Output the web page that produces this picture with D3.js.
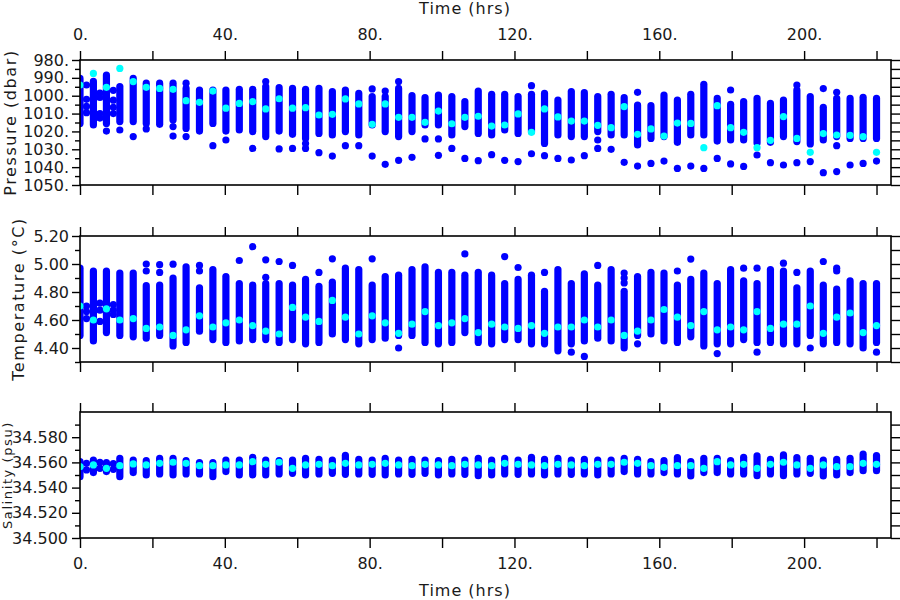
<!DOCTYPE html>
<html><head><meta charset="utf-8">
<script src="https://cdn.jsdelivr.net/npm/d3@7/dist/d3.min.js"></script>
<style>body{margin:0;background:#fff}svg{display:block}text{font-family:"DejaVu Sans",sans-serif}</style>
</head><body><svg id="c" width="900" height="600"></svg>
<script>
// ---------- data ----------
const times = [0,3.7,7.3,11,14.7,18.3,22,25.7,29.3,33,36.7,40.3,44,47.7,51.3,55,58.7,62.3,66,69.7,73.3,77,80.7,84.3,88,91.7,95.3,99,102.7,106.3,110,113.7,117.3,121,124.7,128.3,132,135.7,139.3,143,146.7,150.3,154,157.7,161.3,165,168.7,172.3,176,179.7,183.3,187,190.7,194.3,198,201.7,205.3,209,212.7,216.3,220];

const presTop = [990.3,992,988.4,994.9,990.3,993,993,993,995.9,996.8,996.8,996.8,996.4,996.4,994.9,995.5,995.9,996.4,995.9,997.7,996.8,998.7,1000.5,1000.5,995.9,1000,1001.1,999.6,1000.5,1003.3,997.4,999.2,999.2,1000.5,999.2,998.7,1002.4,997.7,998.3,1000.5,999.2,1001.1,1005.2,1005.6,999.6,1002.4,999.2,993.6,1001.5,1004.8,1003.3,1001.5,1004.3,1002.4,996.8,1000.5,1006.5,1001.5,1001.5,1000.9,1001.5];
const presBottom = [1015.5,1016.4,1015.5,1014.5,1014.5,1015.5,1016,1013.6,1018.3,1019.8,1015.5,1019.8,1019.2,1020.1,1022.9,1019.8,1021.6,1024,1021.1,1022,1020.1,1022,1016.4,1020.1,1022.9,1020.1,1016.4,1016.4,1022,1017.3,1021.1,1022,1019.2,1021.1,1020.1,1026.7,1022,1022.9,1022.9,1020.1,1022,1022,1027.6,1023.9,1022.9,1026.1,1022,1022,1025.4,1024.8,1024.8,1026.5,1026.1,1022.9,1025.7,1027,1024.8,1022.9,1023.9,1023.9,1023.9];
const presCyan = [994,987.5,995.3,984.7,992.1,995.3,995.9,996.4,1002.8,1003.7,997.4,1007,1004.3,1003.3,1007.4,1001.7,1007,1006.7,1010.8,1010.4,1001.8,1004.6,1016,1004.6,1012.1,1012.1,1014.9,1008.6,1015.7,1012.1,1011.5,1017,1016.4,1010.2,1020.5,1007.4,1011.9,1014.2,1014.2,1016.6,1017.9,1006.1,1021.6,1018.6,1022.6,1015.3,1015.5,1029.1,1005.6,1017.9,1020.5,1029.1,1025,1011.7,1023.9,1031.7,1021.2,1022,1022.2,1022.9,1031.7];
const presExtra = [[1.8,994],[1.8,1002],[1.8,1006],[1.8,1009.5],[5.5,998.5],[5.5,1001],[5.5,1010],[5.5,1012.5],[9.2,997],[9.2,1002.5],[9.2,1006.5],[9.2,1010],
[7.3,1019.8],[11,1019.2],[14.7,1022.9],[18.3,1018.6],[25.7,1017.3],[25.7,1022.6],[29.3,993],[29.3,1022.9],[36.7,1028],[40.3,1024.8],[47.7,1029.5],[51.3,992.1],[55,1029.8],[58.7,1029.5],[62.3,1026.8],[62.3,1029.5],[66,1031.9],[69.7,1033.8],[73.3,1028],[77,1028],[80.7,996.2],[80.7,1033.8],[84.3,997.4],[84.3,1038.4],[88,992.1],[88,1036.2],[91.7,1034.5],[95.3,1024.2],[99,1024.2],[99,1033.4],[102.7,1029.5],[106.3,1035.1],[110,1036.4],[113.7,1033],[117.3,1036.2],[121,1036.9],[124.7,994.4],[124.7,1032.5],[128.3,1033.6],[132,1035.1],[135.7,1036],[139.3,1033.6],[143,1024.8],[143,1029.5],[146.7,1030],[150.3,1037.3],[154,998.1],[154,1039.4],[157.7,1037.9],[161.3,1036.6],[165,1040.7],[168.7,1039.4],[172.3,1040.7],[176,1035.1],[179.7,996.8],[179.7,1038.2],[183.3,1039.6],[187,1033.2],[190.7,1037.5],[194.3,1038.8],[198,994],[198,1037.5],[201.7,1036.9],[205.3,996],[205.3,1043.1],[209,998.1],[209,1028],[209,1042.5],[212.7,1038.8],[216.3,1037.9],[220,1036.6]];

const tempTop = [4.97,4.95,4.95,4.935,4.935,4.845,4.85,4.9,4.98,4.83,4.96,4.91,4.86,4.85,4.86,4.86,4.85,4.89,4.84,4.87,4.97,4.96,4.85,4.91,4.92,4.96,4.98,4.94,4.94,4.92,4.94,4.92,4.86,4.89,4.92,4.805,4.96,4.86,4.93,4.85,4.96,4.805,4.91,4.94,4.935,4.85,4.89,4.935,4.86,4.96,4.88,4.86,4.96,4.95,4.83,4.95,4.85,4.82,4.88,4.86,4.86];
const tempBottom = [4.49,4.45,4.51,4.49,4.48,4.47,4.49,4.415,4.44,4.52,4.46,4.44,4.45,4.46,4.46,4.44,4.46,4.43,4.44,4.5,4.46,4.43,4.46,4.47,4.49,4.49,4.44,4.43,4.44,4.51,4.44,4.43,4.46,4.46,4.43,4.43,4.38,4.43,4.45,4.47,4.45,4.4,4.49,4.5,4.45,4.44,4.48,4.415,4.43,4.43,4.46,4.44,4.44,4.43,4.43,4.49,4.43,4.44,4.43,4.4,4.44];
const tempCyan = [4.7,4.6,4.68,4.6,4.61,4.54,4.55,4.49,4.53,4.63,4.55,4.58,4.6,4.56,4.52,4.5,4.69,4.62,4.59,4.74,4.62,4.5,4.63,4.58,4.505,4.57,4.66,4.56,4.58,4.61,4.51,4.57,4.55,4.54,4.56,4.505,4.55,4.55,4.6,4.55,4.6,4.49,4.52,4.6,4.675,4.62,4.56,4.66,4.53,4.55,4.53,4.66,4.54,4.57,4.57,4.7,4.505,4.62,4.65,4.51,4.56];
const tempExtra = [[1.8,4.7],[1.8,4.66],[1.8,4.61],[5.5,4.72],[5.5,4.67],[5.5,4.59],[9.2,4.71],[9.2,4.67],[9.2,4.64],
[18.3,5.0],[18.3,4.95],[22,4.995],[22,4.94],[25.7,4.999],[33,4.99],[33,4.95],[44,5.025],[47.7,5.124],[51.3,5.03],[51.3,4.905],[55,5.018],[58.7,4.99],[66,4.94],[69.7,5.037],[80.7,5.037],[88,4.4],[106.3,5.072],[117.3,5.053],[121,4.975],[128.3,4.94],[135.7,4.37],[139.3,4.34],[143,4.99],[150.3,4.935],[150.3,4.9],[150.3,4.865],[154,4.43],[165,4.95],[168.7,5.035],[176,4.36],[183.3,4.97],[187,4.97],[187,4.37],[194.3,5.006],[198,4.94],[201.7,4.4],[205.3,5.018],[209,4.97],[209,4.95],[220,4.37]];

const salTop = [34.5606,34.5619,34.5598,34.5633,34.5619,34.5614,34.5633,34.5633,34.5614,34.5598,34.5598,34.5619,34.5619,34.5641,34.5619,34.5614,34.5619,34.5633,34.5625,34.5619,34.5655,34.5625,34.5619,34.5633,34.5619,34.5625,34.5619,34.5614,34.5625,34.5619,34.5633,34.5619,34.5633,34.5619,34.564,34.5625,34.5633,34.5619,34.5625,34.5619,34.5619,34.5633,34.5625,34.5606,34.5614,34.5638,34.5606,34.5633,34.5633,34.5614,34.5641,34.5651,34.5625,34.5659,34.5638,34.5633,34.5619,34.5625,34.5633,34.5665,34.5654];
const salBottom = [34.5487,34.5519,34.5527,34.5487,34.5519,34.55,34.5508,34.55,34.5508,34.5508,34.5487,34.5527,34.55,34.55,34.55,34.5508,34.5513,34.55,34.5508,34.5513,34.5505,34.5508,34.5505,34.55,34.5508,34.5505,34.5513,34.55,34.5508,34.5505,34.5495,34.55,34.5508,34.5505,34.5508,34.55,34.5508,34.5505,34.5508,34.55,34.5508,34.5527,34.5508,34.5508,34.5519,34.5508,34.5492,34.5519,34.5519,34.5508,34.5508,34.5495,34.5508,34.5495,34.5508,34.5513,34.5492,34.55,34.5519,34.5534,34.5534];
const salCyan = [34.5566,34.558,34.5553,34.5574,34.5588,34.558,34.5593,34.5601,34.5593,34.5574,34.5574,34.558,34.558,34.5606,34.5585,34.5601,34.5553,34.558,34.5585,34.5574,34.5593,34.558,34.5585,34.5593,34.558,34.5574,34.5585,34.558,34.5574,34.5585,34.558,34.5574,34.5593,34.5585,34.558,34.5574,34.5585,34.558,34.5574,34.5585,34.5585,34.5601,34.5593,34.5574,34.5561,34.5574,34.5574,34.5553,34.5606,34.558,34.5585,34.5553,34.5585,34.5601,34.558,34.5553,34.558,34.5566,34.5566,34.5593,34.5585];
const salExtra = [[1.8,34.5593],[1.8,34.554],[5.5,34.56],[5.5,34.5553],[9.2,34.559],[9.2,34.5545]];

const xTickValues = [0,20,40,60,80,100,120,140,160,180,200,220];
const xLabelValues = [0,40,80,120,160,200];
const presTicks = [980,990,1000,1010,1020,1030,1040,1050];
const presMinor = [985,995,1005,1015,1025,1035,1045];
const tempTicks = [4.4,4.6,4.8,5.0,5.2];
const tempMinor = [4.3,4.5,4.7,4.9,5.1];
const salTicks = [34.50,34.52,34.54,34.56,34.58];
const salMinor = [34.51,34.53,34.55,34.57,34.59];
const xTitle = "Time (hrs)";

// ---------- drawing ----------
const svg = d3.select("#c");
const BLUE = "#0000ff", CYAN = "#00ffff", R = 3.6;
const x = d3.scaleLinear().domain([0,224]).range([80,891]);
const FS = 16, INK = "#1a1a1a";

const panels = [
  {title:"Pressure (dbar)", domain:[980,1050], range:[60,185], top:presTop, bottom:presBottom, cyan:presCyan, extra:presExtra,
   ticks:presTicks, minor:presMinor, fmt:d=>d3.format("d")(d)+".", pad:3, titleX:16, titleFS:16, topLabels:true},
  {title:"Temperature (\u00B0C)", domain:[4.3,5.2], range:[362,236], top:tempTop, bottom:tempBottom, cyan:tempCyan, extra:tempExtra,
   ticks:tempTicks, minor:tempMinor, fmt:d3.format(".2f"), pad:3, titleX:24, titleFS:16},
  {title:"Salinity (psu)", domain:[34.5,34.6], range:[538,412], top:salTop, bottom:salBottom, cyan:salCyan, extra:salExtra,
   ticks:salTicks, minor:salMinor, fmt:d3.format(".3f"), pad:4, titleX:12, titleFS:13, bottomLabels:true}
];

panels.forEach((p,i)=>{
  const y = d3.scaleLinear().domain(p.domain).range(p.range);
  const y0 = Math.min(...p.range), y1 = Math.max(...p.range);
  const clipId = "clip"+i;
  svg.append("clipPath").attr("id",clipId).append("rect")
    .attr("x",x.range()[0]).attr("y",y0).attr("width",x.range()[1]-x.range()[0]).attr("height",y1-y0);
  const g = svg.append("g").attr("clip-path",`url(#${clipId})`);
  g.selectAll("line.run").data(times).join("line").attr("class","run")
    .attr("x1",d=>x(d)).attr("x2",d=>x(d))
    .attr("y1",(d,k)=>y(p.top[k])).attr("y2",(d,k)=>y(p.bottom[k]))
    .attr("stroke",BLUE).attr("stroke-width",2*R).attr("stroke-linecap","round");
  g.selectAll("circle.ex").data(p.extra).join("circle").attr("class","ex")
    .attr("cx",d=>x(d[0])).attr("cy",d=>y(d[1])).attr("r",R).attr("fill",BLUE);
  g.selectAll("circle.cy").data(times).join("circle").attr("class","cy")
    .attr("cx",d=>x(d)).attr("cy",(d,k)=>y(p.cyan[k])).attr("r",R).attr("fill",CYAN);

  // frame
  svg.append("rect").attr("x",x.range()[0]).attr("y",y0).attr("width",x.range()[1]-x.range()[0]).attr("height",y1-y0)
    .attr("fill","none").attr("stroke","#000").attr("stroke-width",1.6);

  const style = a=>{a.select(".domain").remove(); a.selectAll("line").attr("stroke","#000").attr("stroke-width",1.4);
    a.selectAll("text").attr("font-size",FS).attr("font-family","DejaVu Sans, sans-serif").attr("fill",INK);};
  // y title
  svg.append("text").attr("transform",`translate(${p.titleX},${(y0+y1)/2}) rotate(-90)`)
    .attr("text-anchor","middle").attr("font-size",p.titleFS).attr("letter-spacing",1.6).attr("fill",INK).text(p.title);
  // left axis
  svg.append("g").attr("transform",`translate(${x.range()[0]},0)`)
    .call(d3.axisLeft(y).tickValues(p.ticks).tickSize(8).tickPadding(p.pad).tickFormat(p.fmt)).call(style);
  svg.append("g").attr("transform",`translate(${x.range()[0]},0)`)
    .call(d3.axisLeft(y).tickValues(p.minor).tickSize(5).tickFormat("")).call(style);
  // right axis
  svg.append("g").attr("transform",`translate(${x.range()[1]},0)`)
    .call(d3.axisRight(y).tickValues(p.ticks.concat(p.minor)).tickSize(9).tickFormat("")).call(style);
  // top & bottom axes
  svg.append("g").attr("transform",`translate(0,${y0})`)
    .call(d3.axisTop(x).tickValues(xTickValues).tickSize(9).tickPadding(11)
      .tickFormat(d=>p.topLabels && xLabelValues.includes(d) ? d+"." : "")).call(style);
  svg.append("g").attr("transform",`translate(0,${y1})`)
    .call(d3.axisBottom(x).tickValues(xTickValues).tickSize(10).tickPadding(10)
      .tickFormat(d=>p.bottomLabels && xLabelValues.includes(d) ? d+"." : "")).call(style);
});

svg.append("text").attr("x",465).attr("y",14).attr("text-anchor","middle")
  .attr("font-size",FS).attr("letter-spacing",1).attr("fill",INK).text(xTitle);
svg.append("text").attr("x",465).attr("y",596).attr("text-anchor","middle")
  .attr("font-size",FS).attr("letter-spacing",1).attr("fill",INK).text(xTitle);
</script></body></html>
